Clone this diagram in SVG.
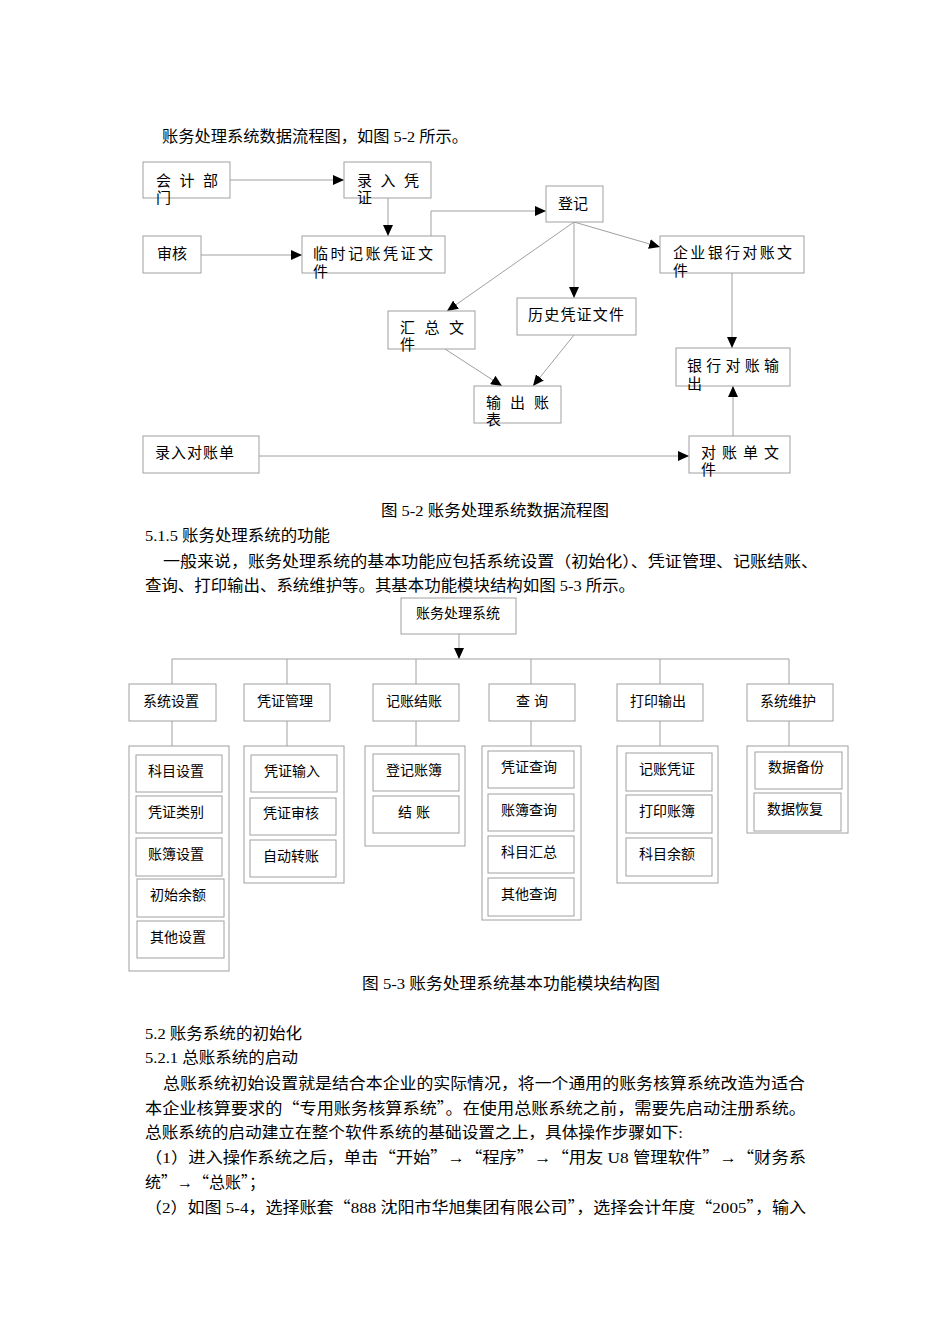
<svg xmlns="http://www.w3.org/2000/svg" width="950" height="1344" viewBox="0 0 950 1344">
<style>
.t{font-family:"Liberation Serif","Noto Sans CJK SC",serif;font-size:15.5px;fill:#000}
.q{font-family:"Noto Sans CJK SC",sans-serif}
.b{font-family:"Liberation Sans","Noto Sans CJK SC",sans-serif;font-size:15px;fill:#000}
.s{font-family:"Liberation Sans","Noto Sans CJK SC",sans-serif;font-size:14px;fill:#000}
.box{fill:#fff;stroke:#a0a0a0;stroke-width:1}
.ln{stroke:#a0a0a0;stroke-width:1;fill:none}
.a{marker-end:url(#ah)}
</style>
<defs>
<marker id="ah" viewBox="0 0 11 10" refX="11" refY="5" markerWidth="11" markerHeight="10" markerUnits="userSpaceOnUse" orient="auto"><path d="M0,0 L11,5 L0,10 z" fill="#000"/></marker>
</defs>
<rect width="950" height="1344" fill="#fff"/>

<!-- page text -->
<text class="t" x="162" y="142" textLength="306" lengthAdjust="spacingAndGlyphs">账务处理系统数据流程图，如图 5-2 所示。</text>
<text class="t" x="381" y="516" textLength="228" lengthAdjust="spacingAndGlyphs">图 5-2 账务处理系统数据流程图</text>
<text class="t" x="145" y="541" textLength="185" lengthAdjust="spacingAndGlyphs">5.1.5 账务处理系统的功能</text>
<text class="t" x="163" y="567" textLength="655" lengthAdjust="spacingAndGlyphs">一般来说，账务处理系统的基本功能应包括系统设置（初始化）、凭证管理、记账结账、</text>
<text class="t" x="145" y="591" textLength="490" lengthAdjust="spacingAndGlyphs">查询、打印输出、系统维护等。其基本功能模块结构如图 5-3 所示。</text>
<text class="t" x="362" y="989" textLength="298" lengthAdjust="spacingAndGlyphs">图 5-3 账务处理系统基本功能模块结构图</text>
<text class="t" x="145" y="1039" textLength="157" lengthAdjust="spacingAndGlyphs">5.2 账务系统的初始化</text>
<text class="t" x="145" y="1063" textLength="153" lengthAdjust="spacingAndGlyphs">5.2.1 总账系统的启动</text>
<text class="t" x="163" y="1089" textLength="642" lengthAdjust="spacingAndGlyphs">总账系统初始设置就是结合本企业的实际情况，将一个通用的账务核算系统改造为适合</text>
<text class="t" x="145" y="1114" textLength="661" lengthAdjust="spacingAndGlyphs">本企业核算要求的<tspan class="q">“</tspan>专用账务核算系统<tspan class="q">”</tspan>。在使用总账系统之前，需要先启动注册系统。</text>
<text class="t" x="145" y="1138" textLength="538" lengthAdjust="spacingAndGlyphs">总账系统的启动建立在整个软件系统的基础设置之上，具体操作步骤如下:</text>
<text class="t" x="145" y="1163" textLength="661" lengthAdjust="spacingAndGlyphs">（1）进入操作系统之后，单击<tspan class="q">“</tspan>开始<tspan class="q">”</tspan>→<tspan class="q">“</tspan>程序<tspan class="q">”</tspan>→<tspan class="q">“</tspan>用友 U8 管理软件<tspan class="q">”</tspan>→<tspan class="q">“</tspan>财务系</text>
<text class="t" x="145" y="1188" textLength="120" lengthAdjust="spacingAndGlyphs">统<tspan class="q">”</tspan>→<tspan class="q">“</tspan>总账<tspan class="q">”</tspan>；</text>
<text class="t" x="145" y="1213" textLength="661" lengthAdjust="spacingAndGlyphs">（2）如图 5-4，选择账套<tspan class="q">“</tspan>888 沈阳市华旭集团有限公司<tspan class="q">”</tspan>，选择会计年度<tspan class="q">“</tspan>2005<tspan class="q">”</tspan>，输入</text>

<!-- Figure 5-2 connectors -->
<g id="connectors-52">
<line class="ln a" x1="230" y1="180" x2="344" y2="180"/>
<line class="ln a" x1="388" y1="198" x2="388" y2="236"/>
<line class="ln a" x1="201" y1="255" x2="302" y2="255"/>
<polyline class="ln a" points="431,236 431,211 546,211"/>
<line class="ln a" x1="574" y1="222" x2="660" y2="247"/>
<line class="ln a" x1="574" y1="222" x2="574" y2="298"/>
<line class="ln a" x1="574" y1="222" x2="447" y2="311"/>
<line class="ln a" x1="445" y1="349" x2="502" y2="386"/>
<line class="ln a" x1="574" y1="335" x2="533" y2="386"/>
<line class="ln a" x1="732" y1="273" x2="732" y2="348"/>
<line class="ln a" x1="259" y1="456" x2="689" y2="456"/>
<line class="ln a" x1="733" y1="436" x2="733" y2="386"/>
</g>

<!-- Figure 5-2 nodes -->
<g id="n-kuaiji"><rect class="box" x="143" y="162" width="87" height="36"/><text class="b" x="156" y="186" textLength="62">会 计 部</text><text class="b" x="156" y="203">门</text></g>
<g id="n-luru"><rect class="box" x="344" y="162" width="87" height="36"/><text class="b" x="357" y="186" textLength="62">录 入 凭</text><text class="b" x="357" y="203">证</text></g>
<g id="n-shenhe"><rect class="box" x="143" y="236" width="58" height="37"/><text class="b" x="157" y="259" textLength="30">审核</text></g>
<g id="n-linshi"><rect class="box" x="302" y="236" width="143" height="37"/><text class="b" x="313" y="259" textLength="120">临时记账凭证文</text><text class="b" x="313" y="277">件</text></g>
<g id="n-dengji"><rect class="box" x="546" y="186" width="57" height="36"/><text class="b" x="558" y="209" textLength="30">登记</text></g>
<g id="n-qiye"><rect class="box" x="660" y="236" width="144" height="37"/><text class="b" x="673" y="258" textLength="119">企业银行对账文</text><text class="b" x="673" y="276">件</text></g>
<g id="n-huizong"><rect class="box" x="388" y="311" width="87" height="38"/><text class="b" x="400" y="333" textLength="64">汇 总 文</text><text class="b" x="400" y="350">件</text></g>
<g id="n-lishi"><rect class="box" x="517" y="298" width="119" height="37"/><text class="b" x="528" y="320" textLength="96">历史凭证文件</text></g>
<g id="n-shuchu"><rect class="box" x="474" y="386" width="87" height="37"/><text class="b" x="486" y="408" textLength="63">输 出 账</text><text class="b" x="486" y="425">表</text></g>
<g id="n-yinhang"><rect class="box" x="676" y="348" width="114" height="38"/><text class="b" x="687" y="371" textLength="92">银 行 对 账 输</text><text class="b" x="687" y="389">出</text></g>
<g id="n-luruduizhang"><rect class="box" x="143" y="436" width="116" height="37"/><text class="b" x="155" y="458" textLength="79">录入对账单</text></g>
<g id="n-duizhangdan"><rect class="box" x="689" y="436" width="101" height="37"/><text class="b" x="701" y="458" textLength="78">对 账 单 文</text><text class="b" x="701" y="475">件</text></g>

<!-- Figure 5-3 connectors -->
<g id="connectors-53">
<line class="ln a" x1="459" y1="634" x2="459" y2="659"/>
<line class="ln" x1="172" y1="659" x2="789" y2="659"/>
<line class="ln" x1="172" y1="659" x2="172" y2="684"/>
<line class="ln" x1="287" y1="659" x2="287" y2="684"/>
<line class="ln" x1="416" y1="659" x2="416" y2="684"/>
<line class="ln" x1="531" y1="659" x2="531" y2="684"/>
<line class="ln" x1="660" y1="659" x2="660" y2="684"/>
<line class="ln" x1="789" y1="659" x2="789" y2="684"/>
<line class="ln" x1="172" y1="721" x2="172" y2="746"/>
<line class="ln" x1="287" y1="721" x2="287" y2="746"/>
<line class="ln" x1="416" y1="721" x2="416" y2="746"/>
<line class="ln" x1="531" y1="721" x2="531" y2="746"/>
<line class="ln" x1="660" y1="721" x2="660" y2="746"/>
<line class="ln" x1="789" y1="721" x2="789" y2="746"/>
</g>

<!-- Figure 5-3 nodes -->
<g id="m-root"><rect class="box" x="401" y="598" width="115" height="36"/><text class="s" x="458" y="618" text-anchor="middle">账务处理系统</text></g>
<g id="m-xitongshezhi"><rect class="box" x="129" y="684" width="87" height="37"/><text class="s" x="171" y="706" text-anchor="middle">系统设置</text></g>
<g id="m-pingzhengguanli"><rect class="box" x="244" y="684" width="86" height="37"/><text class="s" x="285" y="706" text-anchor="middle">凭证管理</text></g>
<g id="m-jizhangjiezhang"><rect class="box" x="373" y="684" width="86" height="37"/><text class="s" x="414" y="706" text-anchor="middle">记账结账</text></g>
<g id="m-chaxun"><rect class="box" x="489" y="684" width="86" height="37"/><text class="s" x="532" y="706" text-anchor="middle">查 询</text></g>
<g id="m-dayinshuchu"><rect class="box" x="617" y="684" width="86" height="37"/><text class="s" x="658" y="706" text-anchor="middle">打印输出</text></g>
<g id="m-xitongweihu"><rect class="box" x="747" y="684" width="86" height="37"/><text class="s" x="788" y="706" text-anchor="middle">系统维护</text></g>

<g id="g-xitongshezhi">
<rect class="box" x="129" y="746" width="100" height="225"/>
<rect class="box" x="136" y="755" width="86" height="37"/><text class="s" x="176" y="776" text-anchor="middle">科目设置</text>
<rect class="box" x="136" y="796" width="86" height="37"/><text class="s" x="176" y="817" text-anchor="middle">凭证类别</text>
<rect class="box" x="136" y="838" width="86" height="38"/><text class="s" x="176" y="859" text-anchor="middle">账簿设置</text>
<rect class="box" x="137" y="879" width="87" height="38"/><text class="s" x="178" y="900" text-anchor="middle">初始余额</text>
<rect class="box" x="137" y="921" width="87" height="37"/><text class="s" x="178" y="942" text-anchor="middle">其他设置</text>
</g>
<g id="g-pingzhengguanli">
<rect class="box" x="244" y="746" width="100" height="137"/>
<rect class="box" x="251" y="755" width="86" height="37"/><text class="s" x="292" y="776" text-anchor="middle">凭证输入</text>
<rect class="box" x="250" y="798" width="86" height="37"/><text class="s" x="291" y="818" text-anchor="middle">凭证审核</text>
<rect class="box" x="250" y="840" width="86" height="37"/><text class="s" x="291" y="861" text-anchor="middle">自动转账</text>
</g>
<g id="g-jizhangjiezhang">
<rect class="box" x="365" y="746" width="100" height="100"/>
<rect class="box" x="373" y="754" width="86" height="37"/><text class="s" x="414" y="775" text-anchor="middle">登记账簿</text>
<rect class="box" x="373" y="796" width="86" height="37"/><text class="s" x="414" y="817" text-anchor="middle">结 账</text>
</g>
<g id="g-chaxun">
<rect class="box" x="482" y="746" width="99" height="174"/>
<rect class="box" x="488" y="751" width="86" height="37"/><text class="s" x="529" y="772" text-anchor="middle">凭证查询</text>
<rect class="box" x="488" y="794" width="86" height="37"/><text class="s" x="529" y="815" text-anchor="middle">账簿查询</text>
<rect class="box" x="488" y="836" width="86" height="37"/><text class="s" x="529" y="857" text-anchor="middle">科目汇总</text>
<rect class="box" x="488" y="878" width="86" height="38"/><text class="s" x="529" y="899" text-anchor="middle">其他查询</text>
</g>
<g id="g-dayinshuchu">
<rect class="box" x="617" y="746" width="101" height="137"/>
<rect class="box" x="626" y="753" width="86" height="38"/><text class="s" x="667" y="774" text-anchor="middle">记账凭证</text>
<rect class="box" x="626" y="795" width="86" height="38"/><text class="s" x="667" y="816" text-anchor="middle">打印账簿</text>
<rect class="box" x="626" y="838" width="86" height="38"/><text class="s" x="667" y="859" text-anchor="middle">科目余额</text>
</g>
<g id="g-xitongweihu">
<rect class="box" x="747" y="746" width="101" height="87"/>
<rect class="box" x="755" y="752" width="87" height="37"/><text class="s" x="796" y="772" text-anchor="middle">数据备份</text>
<rect class="box" x="754" y="793" width="87" height="38"/><text class="s" x="795" y="814" text-anchor="middle">数据恢复</text>
</g>
</svg>
